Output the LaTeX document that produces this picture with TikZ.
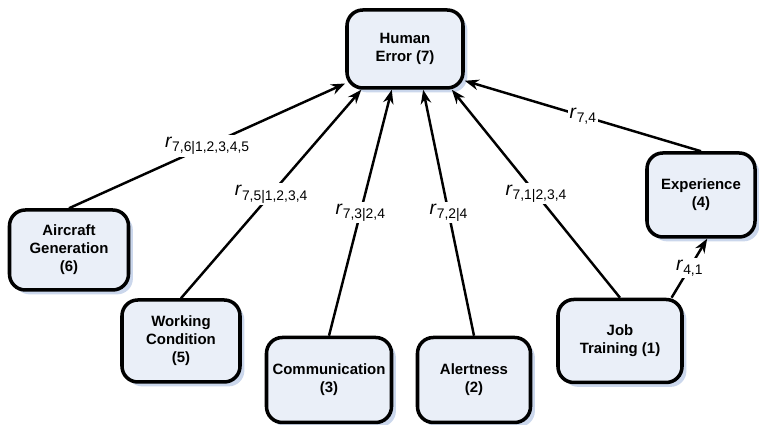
\documentclass[tikz,border=0pt]{standalone}
\usepackage{fontspec}
\setmainfont{Liberation Sans}
\usepackage{tikz}
\usetikzlibrary{arrows.meta}
\usetikzlibrary{shadows}
\definecolor{boxfill}{RGB}{234,239,248}
\definecolor{boxshade}{RGB}{203,215,236}
\newcommand{\rlab}[1]{{\fontsize{11}{12}\selectfont\textit{r}\raisebox{-0.45ex}{\fontsize{7.9}{9}\selectfont #1}}}

\begin{document}
\begin{tikzpicture}
	\useasboundingbox (0,0) rectangle (15.18,8.5);
	\begin{scope}[every node/.style={draw, line width=2pt, rounded corners=9pt, fill=boxfill, align=center,
	              font=\fontsize{8.5}{10.2}\selectfont\bfseries, minimum height=1.6cm,
	              drop shadow={shadow xshift=2.5pt, shadow yshift=-2.5pt, fill=boxshade, opacity=1}}]
	    	\node[minimum width=2.32cm, minimum height=1.56cm]	(7) at (8.10,7.52) {Human\\Error (7)};
	    	\node[minimum width=2.38cm] 	(6) at (1.38,3.50) {Aircraft\\Generation\\(6)};
	    	\node[minimum width=2.36cm, minimum height=1.64cm] 	(5) at (3.62,1.68) {Working\\Condition\\(5)};
	    	\node[minimum width=2.50cm, minimum height=1.70cm] 	(3) at (6.58,0.90) {Communication\\(3)};
	    	\node[minimum width=2.26cm, minimum height=1.70cm] 	(2) at (9.48,0.90) {Alertness\\(2)};
	    	\node[minimum width=2.48cm, minimum height=1.66cm] 	(1) at (12.40,1.68) {Job\\Training (1)};
	    	\node[minimum width=2.16cm, minimum height=1.68cm] 	(4) at (14.02,4.60) {Experience\\(4)};
	\end{scope}
	\begin{scope}[>={Stealth[length=8pt,width=6pt]}, line width=1.4pt,
	              every node/.style={fill=white, inner sep=1pt}]
		\path (6.north) edge[->] node{\rlab{7,6|1,2,3,4,5}} (7.210);
		\path (5.north) edge[->] node{\rlab{7,5|1,2,3,4}} (7.223);
		\path (3.north) edge[->] node{\rlab{7,3|2,4}} (7.252);
		\path (2.north) edge[->] node{\rlab{7,2|4}} (7.294);
		\path (1.north) edge[->] node{\rlab{7,1|2,3,4}} (7.319);
		\path (4.north) edge[->] node{\rlab{7,4}} (7.332);
		\path (1.40) edge[->] node{\rlab{4,1}} (4.278);
	\end{scope}
\end{tikzpicture}
\end{document}
